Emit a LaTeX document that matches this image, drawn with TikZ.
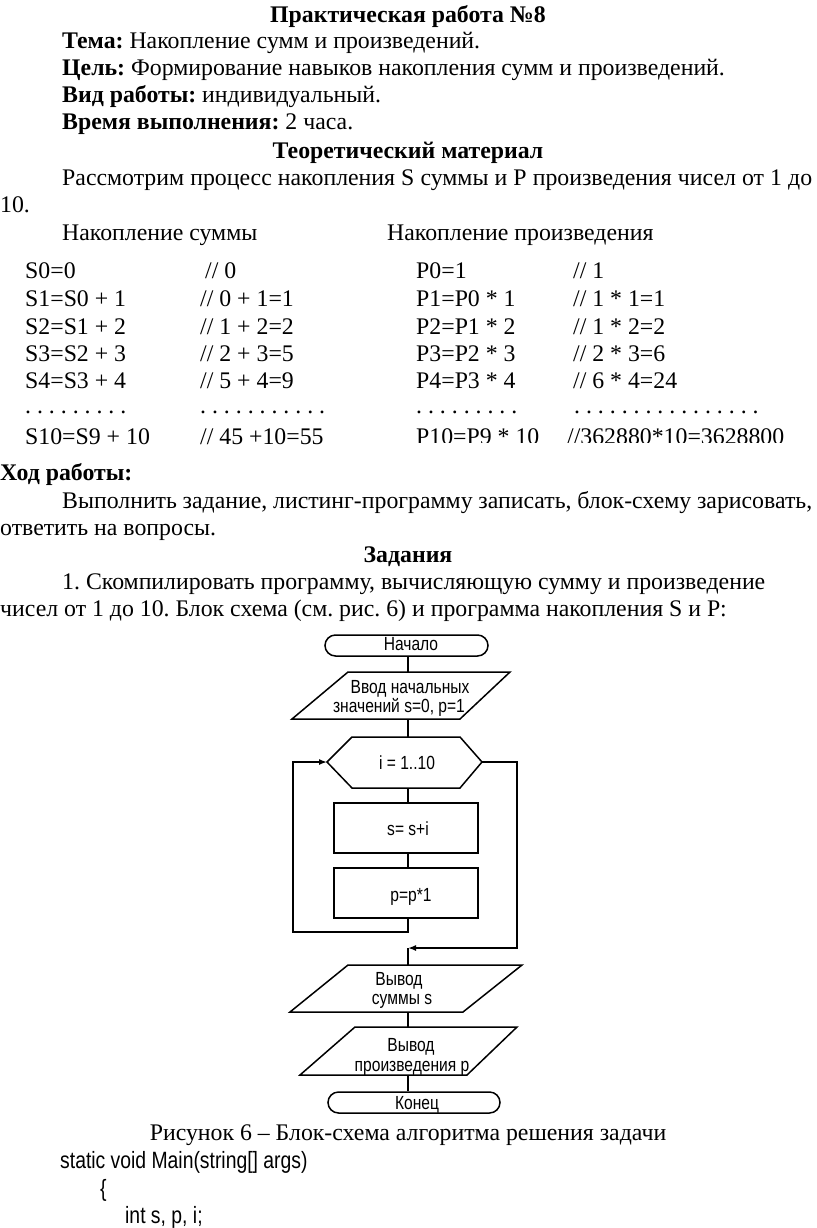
\documentclass[tikz,border=0pt]{standalone}
\usepackage{fontspec}
\setmainfont{Liberation Serif}
\newfontfamily\narrowsans[FakeStretch=0.82]{Liberation Sans}
\usetikzlibrary{arrows.meta}
\frenchspacing
\tikzset{
  body/.style={anchor=base west, inner sep=0pt, font=\fontsize{23.8}{27}\selectfont},
  bodyc/.style={anchor=base, inner sep=0pt, font=\fontsize{23.8}{27}\selectfont},
  head/.style={anchor=base, inner sep=0pt, font=\fontsize{23.8}{27}\selectfont\bfseries},
  code/.style={anchor=base west, inner sep=0pt, font=\fontsize{23.6}{27}\selectfont\narrowsans},
  fc/.style={anchor=base, inner sep=0pt, font=\fontsize{19}{20}\selectfont\narrowsans},
  shapeline/.style={line width=1.5pt, line join=miter},
  conn/.style={line width=1.5pt},
  arr/.style={-{Latex[length=8pt,width=6pt]}},
  boxnode/.style={draw, line width=1.5pt, minimum width=144pt, inner sep=0pt},
  term/.style={draw, line width=1.5pt, rounded corners=10.5pt, minimum height=21pt, inner sep=0pt}
}
\begin{document}
\begin{tikzpicture}[x=1pt,y=-1pt]
\fill[white] (0,0) rectangle (816,1228);
\useasboundingbox (0,0) rectangle (816,1228);

% ---- header ----
\node[head] (title) at (408,22.5) {Практическая работа №8};
\node[body] (tema) at (62,49) {\textbf{Тема:} Накопление сумм и произведений.};
\node[body] (cel) at (62,76) {\textbf{Цель:} Формирование навыков накопления сумм и произведений.};
\node[body] (vid) at (62,103) {\textbf{Вид работы:} индивидуальный.};
\node[body] (vrem) at (62,130) {\textbf{Время выполнения:} 2 часа.};
\node[head] (teor) at (408,158) {Теоретический материал};
\node[body] (rass) at (62,185) {\makebox[750pt][s]{Рассмотрим процесс накопления S суммы и P произведения чисел от 1 до}};
\node[body] (ten) at (0,212) {10.};
\node[body] (hs) at (62,240) {Накопление суммы};
\node[body] (hp) at (387,240) {Накопление произведения};

% ---- sum table ----
\node[body] (s0) at (25,278) {S0=0};
\node[body] (s1) at (25,306) {S1=S0 + 1};
\node[body] (s2) at (25,334) {S2=S1 + 2};
\node[body] (s3) at (25,361) {S3=S2 + 3};
\node[body] (s4) at (25,388) {S4=S3 + 4};
\node[body] (sd) at (25,413) {. . . . . . . . .};
\node[body] (s10) at (25,444) {S10=S9 + 10};
\node[body] (c0) at (205,278) {// 0};
\node[body] (c1) at (200,306) {// 0 + 1=1};
\node[body] (c2) at (200,334) {// 1 + 2=2};
\node[body] (c3) at (200,361) {// 2 + 3=5};
\node[body] (c4) at (200,388) {// 5 + 4=9};
\node[body] (cd) at (200,413) {. . . . . . . . . . .};
\node[body] (c10) at (200,444) {// 45 +10=55};

% ---- product table (clipped) ----
\begin{scope}
\clip (380,250) rectangle (816,442);
\node[body] (p0) at (416,278) {P0=1};
\node[body] (p1) at (416,306) {P1=P0 * 1};
\node[body] (p2) at (416,334) {P2=P1 * 2};
\node[body] (p3) at (416,361) {P3=P2 * 3};
\node[body] (p4) at (416,388) {P4=P3 * 4};
\node[body] (pd) at (416,413) {. . . . . . . . .};
\node[body] (p10) at (416,444) {P10=P9 * 10};
\node[body] (q0) at (573,278) {// 1};
\node[body] (q1) at (573,306) {// 1 * 1=1};
\node[body] (q2) at (573,334) {// 1 * 2=2};
\node[body] (q3) at (573,361) {// 2 * 3=6};
\node[body] (q4) at (573,388) {// 6 * 4=24};
\node[body] (qd) at (574,413) {. . . . . . . . . . . . . . . .};
\node[body] (q10) at (567,444) {//362880*10=3628800};
\end{scope}

% ---- work section ----
\node[body] (hod) at (0,480) {\textbf{Ход работы:}};
\node[body] (vyp) at (62,508) {\makebox[750pt][s]{Выполнить задание, листинг-программу записать, блок-схему зарисовать,}};
\node[body] (otv) at (0,535) {ответить на вопросы.};
\node[head] (zad) at (408,562) {Задания};
\node[body] (t1) at (62,589) {1. Скомпилировать программу, вычисляющую сумму и произведение};
\node[body] (t2) at (0,616) {чисел от 1 до 10. Блок схема (см. рис. 6) и программа накопления S и P:};

% ---- flowchart ----
\node[term, minimum width=163pt] (start) at (406.5,645.5) {};
\node[fc] (starttxt) at (411,650) {Начало};

\draw[shapeline] (348,672) -- (510,672) -- (460,719) -- (292,719) -- cycle;
\coordinate (in1t) at (408,672);
\coordinate (in1b) at (408,719);
\node[fc] (in1a) at (410,693) {Ввод начальных};
\node[fc] (in1c) at (399,712) {значений s=0, p=1};

\draw[shapeline] (327,762) -- (352,737) -- (460,737) -- (482,762) -- (460,788) -- (352,788) -- cycle;
\coordinate (hexT) at (408,737);
\coordinate (hexB) at (408,788);
\coordinate (hexL) at (327,762);
\coordinate (hexR) at (482,762);
\node[fc] (hextxt) at (407,769) {i = 1..10};

\node[boxnode, minimum height=50pt] (b1) at (406,828) {};
\node[fc] (b1txt) at (408,835) {s= s+i};
\node[boxnode, minimum height=50pt] (b2) at (406,893) {};
\node[fc] (b2txt) at (411,901) {p=p*1};

\coordinate (loopL) at (293,932);
\coordinate (loopR) at (517,948);
\coordinate (join) at (408,948);

\draw[shapeline] (348,965) -- (522,965) -- (463,1012) -- (290,1012) -- cycle;
\coordinate (out1t) at (408,965);
\coordinate (out1b) at (408,1012);
\node[fc] (out1a) at (399,985) {Вывод};
\node[fc] (out1c) at (402,1004) {суммы s};

\draw[shapeline] (355,1027) -- (517,1027) -- (467,1075) -- (300,1075) -- cycle;
\coordinate (out2t) at (408,1027);
\coordinate (out2b) at (408,1075);
\node[fc] (out2a) at (411,1051) {Вывод};
\node[fc] (out2c) at (412,1071) {произведения р};

\node[term, minimum width=172pt] (end) at (414,1102.5) {};
\node[fc] (endtxt) at (417,1109) {Конец};

\draw[conn] (in1t |- start.south) -- (in1t);
\draw[conn] (in1b) -- (hexT);
\draw[conn] (hexB) -- (hexB |- b1.north);
\draw[conn] (hexB |- b1.south) -- (hexB |- b2.north);
\draw[conn, arr] (hexB |- b2.south) |- (loopL) |- (hexL);
\draw[conn, arr] (hexR) -| (loopR) -- (join);
\draw[conn] (join) -- (out1t);
\draw[conn] (out1b) -- (out2t);
\draw[conn] (out2b) -- (end.north -| out2b);

% ---- caption and code ----
\node[bodyc] (cap) at (408,1140) {Рисунок 6 – Блок-схема алгоритма решения задачи};
\node[code] (code1) at (60,1168) {static void Main(string[] args)};
\node[code] (code2) at (100,1196) {\{};
\node[code] (code3) at (125,1223) {int s, p, i;};
\end{tikzpicture}
\end{document}
